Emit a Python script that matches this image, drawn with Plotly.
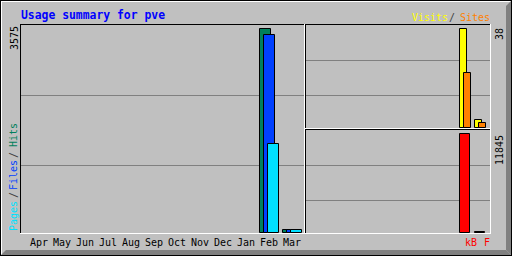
import plotly.graph_objects as go

# ---------------- data ----------------
months = ["Apr", "May", "Jun", "Jul", "Aug", "Sep", "Oct", "Nov", "Dec", "Jan", "Feb", "Mar"]
hits   = [0, 0, 0, 0, 0, 0, 0, 0, 0, 0, 3575, 52]
files  = [0, 0, 0, 0, 0, 0, 0, 0, 0, 0, 3470, 50]
pages  = [0, 0, 0, 0, 0, 0, 0, 0, 0, 0, 1560, 48]
visits = [0, 0, 0, 0, 0, 0, 0, 0, 0, 0, 38, 3]
sites  = [0, 0, 0, 0, 0, 0, 0, 0, 0, 0, 21, 2]
kbytes = [0, 0, 0, 0, 0, 0, 0, 0, 0, 0, 11845, 20]

# ---------------- styling / layout constants ----------------
W, H = 512, 256
BG = "#C0C0C0"
DARK = "#808080"
MONO = "DejaVu Sans Mono"
C_HITS, C_FILES, C_PAGES = "#00805C", "#0040FF", "#00E0FF"
C_VISITS, C_SITES, C_KB = "#FFFF00", "#FF8000", "#FF0000"


def fx(px):
    return px / W


def fy(py):
    return 1 - py / H


def box(x0, y0, x1, y1, color):
    return dict(type="rect", xref="paper", yref="paper", x0=fx(x0), x1=fx(x1),
                y0=fy(y1), y1=fy(y0), fillcolor=color, line_width=0, layer="below")


shapes = []
# outer border
shapes += [box(0, 0, 512, 1, "black"), box(0, 0, 1, 256, "black"),
           box(511, 0, 512, 256, "black"), box(0, 255, 512, 256, "black"),
           box(1, 1, 511, 2, "white"), box(1, 1, 2, 255, "white")]
# 3D shadow on right and bottom
shapes.append(dict(type="path", xref="paper", yref="paper", layer="below",
                   path=f"M {fx(506)} {fy(6)} L {fx(511)} {fy(1)} L {fx(511)} {fy(255)} L {fx(506)} {fy(250)} Z",
                   fillcolor=DARK, line_width=0))
shapes.append(dict(type="path", xref="paper", yref="paper", layer="below",
                   path=f"M {fx(6)} {fy(250)} L {fx(506)} {fy(250)} L {fx(511)} {fy(255)} L {fx(1)} {fy(255)} Z",
                   fillcolor=DARK, line_width=0))

# panels: (x0, y0, x1, y1) pixel boxes of the inner plotting areas
P_MAIN = (21, 25, 304, 233)
P_TOP = (306, 25, 490, 128)
P_BOT = (306, 130, 490, 233)


def frame(p):
    x0, y0, x1, y1 = p
    return [box(x0 - 1, y0 - 1, x1 + 1, y0, "black"), box(x0 - 1, y0 - 1, x0, y1 + 1, "black"),
            box(x0 - 1, y1, x1 + 1, y1 + 1, "white"), box(x1, y0 - 1, x1 + 1, y1 + 1, "white")]


def grid(p, ys):
    x0, y0, x1, y1 = p
    return [box(x0, y, x1, y + 1, DARK) for y in ys]


for p in (P_MAIN, P_TOP, P_BOT):
    shapes += frame(p)
shapes += grid(P_MAIN, [95, 165])
shapes += grid(P_TOP, [60, 95])
shapes += grid(P_BOT, [165, 200])

fig = go.Figure()


def add_bars(vals, offset, width, color, xa, ya):
    xs = [i + offset for i, v in enumerate(vals) if v > 0]
    ys = [v for v in vals if v > 0]
    fig.add_trace(go.Bar(x=xs, y=ys, width=width, marker=dict(color=color, line=dict(color="black", width=1)),
                         xaxis=xa, yaxis=ya, showlegend=False, hoverinfo="skip"))


# main panel: month i centred at pixel 39 + 23 i, bars 4 px apart
STEP_M = 23.0
add_bars(hits, -4 / STEP_M, 11 / STEP_M, C_HITS, "x", "y")
add_bars(files, 0, 11 / STEP_M, C_FILES, "x", "y")
add_bars(pages, 4 / STEP_M, 11 / STEP_M, C_PAGES, "x", "y")
# right panels: 15 px per month
STEP_R = 15.0
add_bars(visits, 0, 7 / STEP_R, C_VISITS, "x2", "y2")
add_bars(sites, 4 / STEP_R, 7 / STEP_R, C_SITES, "x2", "y2")
add_bars(kbytes, 0, 9.5 / STEP_R, C_KB, "x3", "y3")


def xrange_for(p, origin_px, step):
    return [(p[0] - origin_px) / step, (p[2] - origin_px) / step]


def yrange_for(p, base_px, top_px, vmax):
    s = vmax / (base_px - top_px)
    return [-(p[3] - base_px) * s, (base_px - p[1]) * s]


def dom(p):
    return [fx(p[0]), fx(p[2])], [fy(p[3]), fy(p[1])]


dxm, dym = dom(P_MAIN)
dxt, dyt = dom(P_TOP)
dxb, dyb = dom(P_BOT)

axis_common = dict(showgrid=False, zeroline=False, showline=False, ticks="", fixedrange=True)

fig.update_layout(
    width=W, height=H, margin=dict(l=0, r=0, t=0, b=0),
    paper_bgcolor=BG, plot_bgcolor="rgba(0,0,0,0)",
    barmode="overlay", bargap=0, shapes=shapes,
    xaxis=dict(domain=dxm, range=xrange_for(P_MAIN, 39, STEP_M), tickvals=list(range(12)), ticktext=months,
               tickfont=dict(family=MONO, size=10, color="black"), ticklabelstandoff=2,
               anchor="y", **axis_common),
    yaxis=dict(domain=dym, range=yrange_for(P_MAIN, 232.5, 29, max(hits)), showticklabels=False,
               anchor="x", **axis_common),
    xaxis2=dict(domain=dxt, range=xrange_for(P_TOP, 313, STEP_R), showticklabels=False, anchor="y2", **axis_common),
    yaxis2=dict(domain=dyt, range=yrange_for(P_TOP, 127.7, 29, max(visits)), showticklabels=False,
                anchor="x2", **axis_common),
    xaxis3=dict(domain=dxb, range=xrange_for(P_BOT, 315, STEP_R), showticklabels=False, anchor="y3", **axis_common),
    yaxis3=dict(domain=dyb, range=yrange_for(P_BOT, 232.5, 134.3, max(kbytes)), showticklabels=False,
                anchor="x3", **axis_common),
)


def label(text, x, y, color, size=10, angle=0, bold=False, xanchor="center"):
    fig.add_annotation(text=f"<b>{text}</b>" if bold else text, x=fx(x), y=fy(y), xref="paper", yref="paper",
                       showarrow=False, textangle=angle, xanchor=xanchor, yanchor="middle",
                       font=dict(family=MONO, size=size, color=color))


label("Usage summary for pve", 19, 15, "#0000FF", size=11.4, bold=True, xanchor="left")
# legends
label("Visits", 430, 17, C_VISITS)
label("/", 452, 17, "#404040")
label("Sites", 474.5, 17, C_SITES)
label("kB", 470.5, 242, C_KB)
label("F", 487, 242, C_KB)
label("Hits", 13, 135, "#00805C", angle=-90)
label("/", 13, 155, "#404040", angle=-90)
label("Files", 13, 175, C_FILES, angle=-90)
label("/", 13, 195, "#404040", angle=-90)
label("Pages", 13, 216, C_PAGES, angle=-90)
# scale maxima
label(str(max(hits)), 14, 38, "black", angle=-90)
label(str(max(visits)), 499, 34, "black", angle=-90)
label(str(max(kbytes)), 499, 150, "black", angle=-90)

fig.write_html("out.html")
